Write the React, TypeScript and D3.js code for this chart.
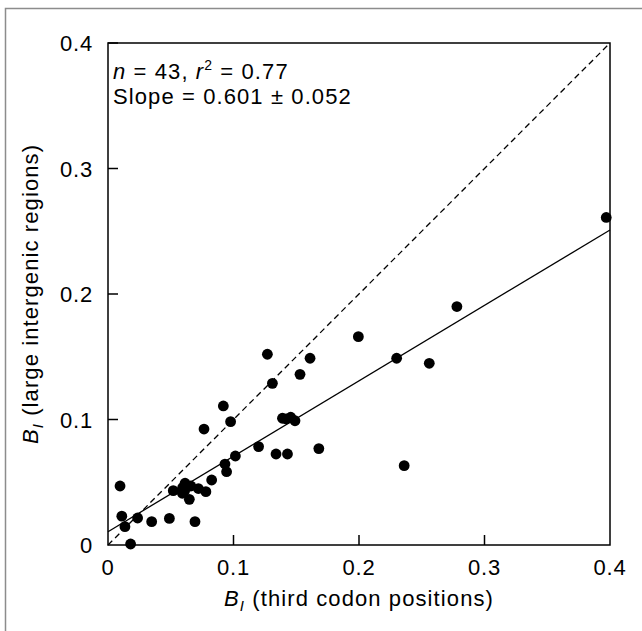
import React from "react";
import * as d3 from "d3";

const xThird: number[] = [
  0.0096, 0.011, 0.0135, 0.018, 0.0236, 0.0348, 0.0489, 0.052, 0.0592, 0.0595,
  0.0614, 0.063, 0.0648, 0.0693, 0.072, 0.078, 0.0765, 0.0826, 0.0919, 0.0932,
  0.0945, 0.0977, 0.1015, 0.12, 0.131, 0.1339, 0.143, 0.139, 0.1456, 0.149,
  0.153, 0.161, 0.1995, 0.23, 0.256, 0.278, 0.397, 0.168, 0.236, 0.127,
  0.061, 0.066, 0.142,
];
const yInter: number[] = [
  0.047, 0.023, 0.0146, 0.0008, 0.0215, 0.0186, 0.0212, 0.0433, 0.0412, 0.0457,
  0.0492, 0.0465, 0.0364, 0.0186, 0.045, 0.0425, 0.0924, 0.0518, 0.1108, 0.0645,
  0.0584, 0.0983, 0.0709, 0.0784, 0.1288, 0.0725, 0.0725, 0.101, 0.1018, 0.099,
  0.136, 0.1488, 0.166, 0.1488, 0.1448, 0.19, 0.261, 0.0768, 0.0632, 0.152,
  0.043, 0.047, 0.1005,
];
const xTicks: number[] = [0, 0.1, 0.2, 0.3, 0.4];
const yTicks: number[] = [0, 0.1, 0.2, 0.3, 0.4];
const fitSlope = 0.601;
const fitIntercept = 0.0106;

export default function App() {
  const left = 108, right = 610, top = 43, bottom = 545;
  const x = d3.scaleLinear().domain([0, 0.4]).range([left, right]);
  const y = d3.scaleLinear().domain([0, 0.4]).range([bottom, top]);
  const font = "'Liberation Sans', Arial, Helvetica, sans-serif";
  const fitLine = d3.line<number>().x((v) => x(v)).y((v) => y(fitIntercept + fitSlope * v));
  const idLine = d3.line<number>().x((v) => x(v)).y((v) => y(v));
  const fmt = (v: number) => (v === 0 ? "0" : d3.format(".1f")(v));
  const fs = 22;
  const ls = 1.1;
  return (
    <svg
      width={642}
      height={631}
      style={{ position: "fixed", left: 0, top: 0, background: "#fff" }}
      fontFamily={font}
    >
      <rect x={0} y={0} width={642} height={631} fill="#fff" />
      <rect x={5.5} y={8.5} width={800} height={800} fill="none" stroke="#8c8c8c" strokeWidth={1.5} />
      <path d={idLine([0, 0.4]) || ""} fill="none" stroke="#000" strokeWidth={1.3} strokeDasharray="6,4" />
      <path d={fitLine([0, 0.4]) || ""} fill="none" stroke="#000" strokeWidth={1.3} />
      {xThird.map((v, i) => (
        <circle key={i} cx={x(v)} cy={y(yInter[i])} r={5.4} fill="#000" />
      ))}
      <rect x={left} y={top} width={right - left} height={bottom - top} fill="none" stroke="#000" strokeWidth={1.5} />
      {xTicks.map((t) => (
        <g key={"x" + t}>
          {t > 0 && t < 0.4 && <line x1={x(t)} x2={x(t)} y1={bottom} y2={bottom - 10} stroke="#000" strokeWidth={1.5} />}
          <text x={x(t)} y={575} textAnchor="middle" fontSize={fs} letterSpacing={0.8}>{fmt(t)}</text>
        </g>
      ))}
      {yTicks.map((t) => (
        <g key={"y" + t}>
          {t > 0 && <line x1={left} x2={left + 10} y1={y(t)} y2={y(t)} stroke="#000" strokeWidth={1.5} />}
          <text x={93} y={y(t) + 8} textAnchor="end" fontSize={fs} letterSpacing={0.8}>{fmt(t)}</text>
        </g>
      ))}
      <text x={(left + right) / 2} y={606} textAnchor="middle" fontSize={fs} letterSpacing={ls}>
        <tspan fontStyle="italic">B</tspan>
        <tspan fontStyle="italic" fontSize={15} dy={5}>I</tspan>
        <tspan dy={-5}> (third codon positions)</tspan>
      </text>
      <text
        transform={`translate(38, ${(top + bottom) / 2}) rotate(-90)`}
        textAnchor="middle"
        fontSize={fs}
        letterSpacing={ls}
      >
        <tspan fontStyle="italic">B</tspan>
        <tspan fontStyle="italic" fontSize={15} dy={5}>I</tspan>
        <tspan dy={-5}> (large intergenic regions)</tspan>
      </text>
      <text x={113} y={79} fontSize={fs} letterSpacing={ls}>
        <tspan fontStyle="italic">n</tspan>
        <tspan> = 43, </tspan>
        <tspan fontStyle="italic">r</tspan>
        <tspan fontSize={14} dy={-9}>2</tspan>
        <tspan dy={9}> = 0.77</tspan>
      </text>
      <text x={113} y={104} fontSize={fs} letterSpacing={ls}>Slope = 0.601 ± 0.052</text>
    </svg>
  );
}
